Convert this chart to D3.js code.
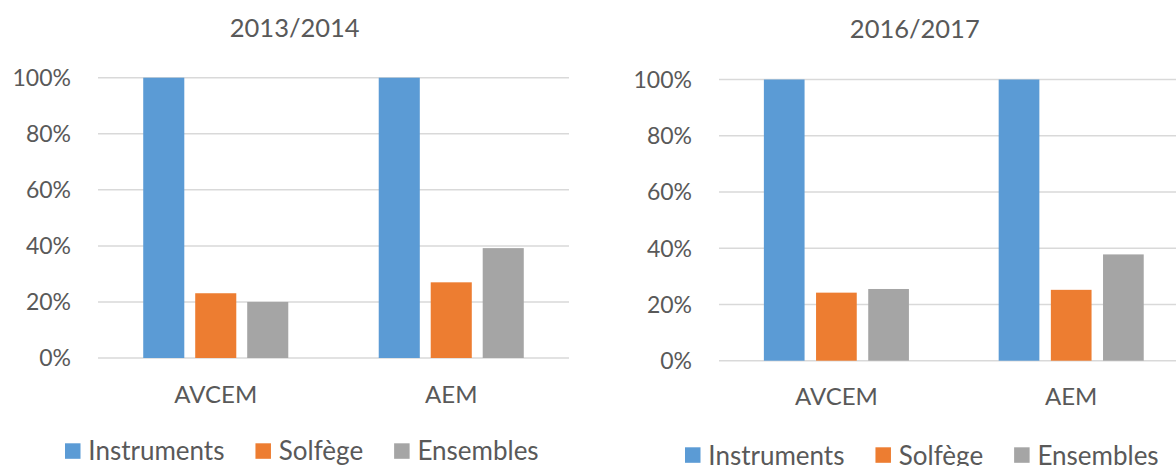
<!DOCTYPE html>
<html>
<head>
<meta charset="utf-8">
<script src="https://cdn.jsdelivr.net/npm/d3@7"></script>
<style>
  html, body { margin: 0; padding: 0; background: #fff; }
  svg { display: block; }
  text { font-family: Lato, "Noto Sans", sans-serif; fill: #595959; }
</style>
</head>
<body>
<svg id="chart" width="1176" height="466"></svg>
<script>
// Share of students enrolled, by course type and school
const categories = ["AVCEM", "AEM"];
const seriesNames = ["Instruments", "Solfège", "Ensembles"];
const seriesColors = ["#5B9BD5", "#ED7D31", "#A5A5A5"];
const yTicks = [0, 0.2, 0.4, 0.6, 0.8, 1.0];

// 2013/2014
const instruments2013 = [1.00, 1.00];
const solfege2013 = [0.231, 0.27];
const ensembles2013 = [0.20, 0.392];

// 2016/2017
const instruments2016 = [1.00, 1.00];
const solfege2016 = [0.242, 0.252];
const ensembles2016 = [0.255, 0.378];

const panels = [
  {
    title: "2013/2014",
    series: [instruments2013, solfege2013, ensembles2013],
    x0: 98, x1: 569, yTop: 77.7, yBottom: 358,
    titleX: 294.7, titleY: 36.7, catY: 402.7,
    legendX: 65, legendY: 443.3, legendBase: 460,
    padIn: 0.21, padOut: 0.87
  },
  {
    title: "2016/2017",
    series: [instruments2016, solfege2016, ensembles2016],
    x0: 719, x1: 1188.6, yTop: 79.5, yBottom: 360.7,
    titleX: 914.8, titleY: 38.3, catY: 405,
    legendX: 685, legendY: 447.3, legendBase: 464.5,
    padIn: 0.22, padOut: 0.86
  }
];

const svg = d3.select("#chart");
const pct = d3.format(".0%");

panels.forEach(p => {
  const g = svg.append("g");

  const x = d3.scaleBand().domain(categories).range([p.x0, p.x1]);
  const xInner = d3.scaleBand().domain(seriesNames)
    .range([0, x.bandwidth()])
    .paddingInner(p.padIn).paddingOuter(p.padOut);
  const y = d3.scaleLinear().domain([0, 1]).range([p.yBottom, p.yTop]);

  // gridlines
  g.append("g").selectAll("line").data(yTicks).join("line")
    .attr("x1", p.x0).attr("x2", p.x1)
    .attr("y1", d => y(d)).attr("y2", d => y(d))
    .attr("stroke", "#D9D9D9").attr("stroke-width", 1.5);

  // y tick labels
  g.append("g").selectAll("text").data(yTicks).join("text")
    .attr("x", p.x0 - 27).attr("y", d => y(d)).attr("dy", "0.36em")
    .attr("text-anchor", "end").style("font-size", "23px")
    .text(d => pct(d));

  // bars
  const rows = [];
  categories.forEach((c, ci) => {
    seriesNames.forEach((s, si) => rows.push({ c, s, si, v: p.series[si][ci] }));
  });
  g.append("g").selectAll("rect").data(rows).join("rect")
    .attr("x", d => x(d.c) + xInner(d.s))
    .attr("width", xInner.bandwidth())
    .attr("y", d => y(d.v))
    .attr("height", d => y(0) - y(d.v))
    .attr("fill", d => seriesColors[d.si]);

  // category labels
  g.append("g").selectAll("text").data(categories).join("text")
    .attr("x", d => x(d) + x.bandwidth() / 2).attr("y", p.catY)
    .attr("text-anchor", "middle").style("font-size", "24px")
    .text(d => d);

  // title
  g.append("text").attr("x", p.titleX).attr("y", p.titleY)
    .attr("text-anchor", "middle").style("font-size", "25.5px")
    .text(p.title);

  // legend
  let lx = p.legendX;
  seriesNames.forEach((s, si) => {
    g.append("rect").attr("x", lx).attr("y", p.legendY)
      .attr("width", 15.5).attr("height", 15.5).attr("fill", seriesColors[si]);
    const t = g.append("text").attr("x", lx + 23.3).attr("y", p.legendBase)
      .style("font-size", "26px").text(s);
    lx += 23.3 + t.node().getComputedTextLength() + 31;
  });
});
</script>
</body>
</html>
